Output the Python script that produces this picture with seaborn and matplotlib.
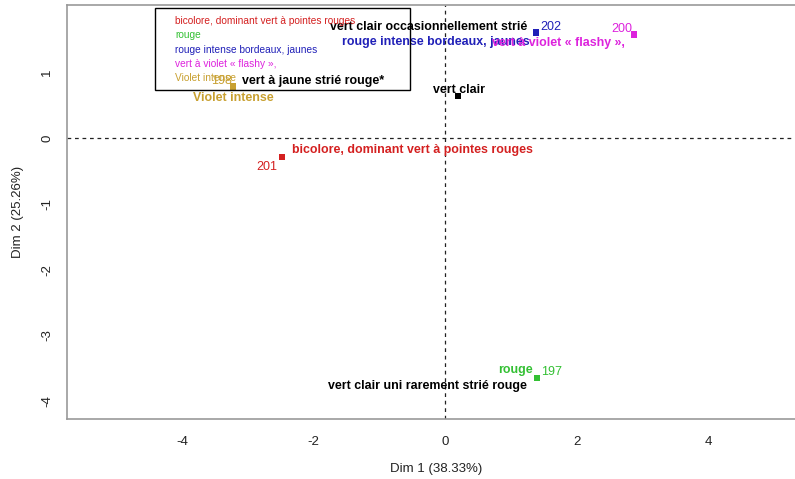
import matplotlib
matplotlib.use("Agg")
import matplotlib.pyplot as plt
from matplotlib.patches import Rectangle
import seaborn as sns
import pandas as pd

# ---- data ----
ids = ["197", "198", "200", "201", "202", ""]
dim1 = [1.40, -3.22, 2.87, -2.48, 1.38, 0.20]
dim2 = [-3.65, 0.78, 1.57, -0.29, 1.60, 0.64]
groups = ["rouge", "Violet intense", "vert à violet « flashy »,",
          "bicolore, dominant vert à pointes rouges",
          "rouge intense bordeaux, jaunes", "vert clair"]
extra_labels = ["vert clair uni rarement strié rouge", "vert à jaune strié rouge*", "",
                "", "vert clair occasionnellement strié", ""]
colors = ["#33c033", "#c8a030", "#dd22dd", "#d42020", "#2020b8", "#000000"]
legend_labels = ["bicolore, dominant vert à pointes rouges", "rouge",
                 "rouge intense bordeaux, jaunes", "vert à violet « flashy »,",
                 "Violet intense"]
xticks = [-4, -2, 0, 2, 4]
yticks = [-4, -3, -2, -1, 0, 1]
xlabel = "Dim 1 (38.33%)"
ylabel = "Dim 2 (25.26%)"

df = pd.DataFrame({"Dim1": dim1, "Dim2": dim2, "group": groups, "id": ids})
palette = dict(zip(groups, colors))
legend_colors = [palette[g] for g in legend_labels]

sns.set_style("white")
plt.rcParams["font.family"] = ["Liberation Sans", "DejaVu Sans"]

W, H = 795, 479
fig = plt.figure(figsize=(W / 100, H / 100), dpi=100)
ax = fig.add_axes([67 / W, 60 / H, (805 - 67) / W, (419 - 5) / H])

ax.axhline(0, color="#222222", lw=0.9, ls=(0, (3, 3)), zorder=1)
ax.axvline(0, color="#222222", lw=0.9, ls=(0, (3, 3)), zorder=1)

sns.scatterplot(data=df, x="Dim1", y="Dim2", hue="group", palette=palette,
                marker="s", s=22, linewidth=0, legend=False, ax=ax, zorder=3)

ax.set_xlim(-5.745, 5.47)
ax.set_ylim(-4.27, 2.02)
ax.set_xticks(xticks)
ax.set_xticklabels([str(t) for t in xticks])
ax.set_yticks(yticks)
ax.set_yticklabels([str(t) for t in yticks], rotation=90, va="center")
ax.tick_params(axis="both", direction="out", length=7, width=0.9, color="#555555",
               labelsize=9.5, labelcolor="#222222")
ax.tick_params(axis="x", pad=5)
ax.tick_params(axis="y", pad=3)
ax.set_xlabel(xlabel, fontsize=9.5, color="#222222", labelpad=11)
ax.set_ylabel(ylabel, fontsize=9.5, color="#222222", labelpad=12)
for side in ["left", "bottom", "top"]:
    ax.spines[side].set_color("#999999")
    ax.spines[side].set_linewidth(1.2)
ax.spines["right"].set_visible(False)


def lab(txt, i, dx, dy, ha, bold, col, fs):
    ax.annotate(txt, (dim1[i], dim2[i]), xytext=(dx * 0.72, dy * 0.72),
                textcoords="offset points", ha=ha, va="center", fontsize=fs,
                fontweight="bold" if bold else "normal", color=col, zorder=4)


num_fs = 9
lab_fs = 8.9
# ids
lab(ids[0], 0, 4, 6, "left", False, colors[0], num_fs)
lab(ids[1], 1, -1, 6, "right", False, colors[1], num_fs)
lab(ids[2], 2, -2, 6, "right", False, colors[2], num_fs)
lab(ids[3], 3, -5, -10, "right", False, colors[3], num_fs)
lab(ids[4], 4, 4, 6, "left", False, colors[4], num_fs)
# group names
lab(groups[0], 0, -4, 8, "right", True, colors[0], lab_fs)
lab(groups[1], 1, 0, -11, "center", True, colors[1], lab_fs)
lab(groups[3], 3, 10, 7, "left", True, colors[3], lab_fs)
lab(groups[4], 4, -6, -9, "right", True, colors[4], lab_fs)
lab(groups[2], 2, -9, -8, "right", True, colors[2], lab_fs)
lab(groups[5], 5, 1, 6, "center", True, colors[5], lab_fs)
# black descriptions
lab(extra_labels[0], 0, -10, -8, "right", True, "black", lab_fs)
lab(extra_labels[1], 1, 9, 6, "left", True, "black", lab_fs)
lab(extra_labels[4], 4, -9, 6, "right", True, "black", lab_fs)

# ---- legend box (text only, as in R) ----
box = Rectangle((155 / W, 1 - 90 / H), (410 - 155) / W, (90 - 8) / H,
                transform=fig.transFigure, fill=False, edgecolor="black",
                linewidth=1.0, zorder=5)
fig.add_artist(box)
for k, (t, c) in enumerate(zip(legend_labels, legend_colors)):
    fig.text(175 / W, 1 - (21 + 14.25 * k) / H, t, color=c, fontsize=7.3,
             va="center", ha="left", zorder=6)

fig.savefig("out.png", dpi=100)
